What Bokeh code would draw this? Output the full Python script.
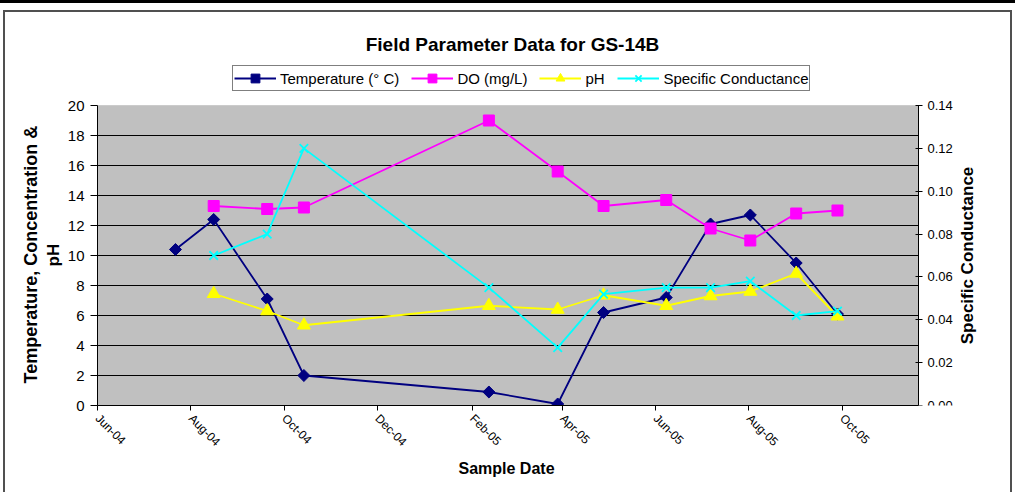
import math
from datetime import datetime
from bokeh.plotting import figure
from bokeh.models import (Range1d, LinearAxis, FixedTicker, DatetimeTickFormatter, Title,
                          Legend, LegendItem, NumeralTickFormatter, Label, BoxAnnotation)
from bokeh.embed import file_html
from bokeh.resources import INLINE

# ---------------- data ----------------
temp_dates = ["2004-07-22", "2004-08-16", "2004-09-20", "2004-10-14", "2005-02-12", "2005-03-29",
              "2005-04-28", "2005-06-08", "2005-07-07", "2005-08-02", "2005-09-01", "2005-09-28"]
temp_vals = [10.4, 12.4, 7.1, 2.0, 0.9, 0.1, 6.2, 7.2, 12.1, 12.7, 9.5, 6.1]

sample_dates = ["2004-08-16", "2004-09-20", "2004-10-14", "2005-02-12", "2005-03-29",
                "2005-04-28", "2005-06-08", "2005-07-07", "2005-08-02", "2005-09-01", "2005-09-28"]
do_vals = [13.3, 13.1, 13.2, 19.0, 15.6, 13.3, 13.7, 11.8, 11.0, 12.8, 13.0]
ph_vals = [7.45, 6.3, 5.35, 6.65, 6.4, 7.35, 6.65, 7.3, 7.6, 8.8, 5.95]
sc_vals = [0.070, 0.080, 0.120, 0.055, 0.027, 0.052, 0.055, 0.055, 0.058, 0.042, 0.044]

x_tick_dates = ["2004-06-01", "2004-08-01", "2004-10-01", "2004-12-01", "2005-02-01",
                "2005-04-01", "2005-06-01", "2005-08-01", "2005-10-01"]
x_start, x_end = "2004-06-01", "2005-11-20"
left_ticks = [0, 2, 4, 6, 8, 10, 12, 14, 16, 18, 20]
right_ticks = [0.00, 0.02, 0.04, 0.06, 0.08, 0.10, 0.12, 0.14]
left_max, right_max = 20, 0.14

series_names = ["Temperature (° C)", "DO (mg/L)", "pH", "Specific Conductance"]
title_text = "Field Parameter Data for GS-14B"
x_title = "Sample Date"
y_title_1 = "Temperature, Concentration &"
y_title_2 = "pH"
y2_title = "Specific Conductance"

# ---------------- layout constants (pixels) ----------------
W, H = 1015, 492
PLOT_LEFT, PLOT_RIGHT, PLOT_TOP, PLOT_BOTTOM = 97, 918, 105, 405
BORDER_RIGHT = 37
FRAME_RIGHT = W - BORDER_RIGHT
FONT = "Liberation Sans"

def d(s):
    return datetime.strptime(s, "%Y-%m-%d")

def ms(s):
    return (d(s) - datetime(1970, 1, 1)).total_seconds() * 1000.0

# frame: from canvas top to the x axis, and from the left axis to near the right edge;
# the real plot area is drawn inside it with bounded axes
y_ext = PLOT_BOTTOM / (PLOT_BOTTOM - PLOT_TOP)
px_per_ms = (PLOT_RIGHT - PLOT_LEFT) / (ms(x_end) - ms(x_start))
x_frame_end = ms(x_end) + (FRAME_RIGHT - PLOT_RIGHT) / px_per_ms

p = figure(width=W, height=H, x_axis_type="datetime", title=None,
           x_range=Range1d(ms(x_start), x_frame_end), y_range=Range1d(0, left_max * y_ext),
           output_backend="svg", toolbar_location=None,
           min_border_left=PLOT_LEFT, min_border_right=BORDER_RIGHT,
           min_border_top=0, min_border_bottom=H - PLOT_BOTTOM,
           background_fill_color=None, border_fill_color=None)
p.outline_line_color = None
p.styles = {
    "background-color": "white",
    "background-image": ("linear-gradient(#000,#000), linear-gradient(#505050,#505050), "
                         "linear-gradient(#505050,#505050), linear-gradient(#505050,#505050)"),
    "background-position": "0px 0px, 3px 10px, 3px 10px, 1010px 10px",
    "background-size": "100% 3px, 1009px 2px, 2px 482px, 2px 482px",
    "background-repeat": "no-repeat",
}

# grey plot area
p.add_layout(BoxAnnotation(left=ms(x_start), right=ms(x_end), bottom=0, top=left_max,
                           fill_color="#C0C0C0", fill_alpha=1.0,
                           line_color="#A0A0A0", line_width=1, level="image"))

# horizontal gridlines over the plot area only
grid_y = left_ticks[1:-1]
p.segment(x0=[ms(x_start)] * len(grid_y), x1=[ms(x_end)] * len(grid_y), y0=grid_y, y1=grid_y,
          line_color="black", line_width=1)
p.xgrid.grid_line_color = None
p.ygrid.grid_line_color = None

p.extra_y_ranges = {"sc": Range1d(0, right_max * y_ext)}
rax = LinearAxis(y_range_name="sc", ticker=FixedTicker(ticks=right_ticks),
                 formatter=NumeralTickFormatter(format="0.00"), bounds=(0, right_max),
                 fixed_location=ms(x_end))
p.add_layout(rax, "right")

lax = p.yaxis[0]
lax.ticker = FixedTicker(ticks=left_ticks)
lax.bounds = (0, left_max)

xax = p.xaxis[0]
xax.ticker = FixedTicker(ticks=[ms(t) for t in x_tick_dates])
xax.bounds = (ms(x_start), ms(x_end))
fmt = "%b-%y"
xax.formatter = DatetimeTickFormatter(days=fmt, months=fmt, years=fmt, hours=fmt,
                                      minutes=fmt, seconds=fmt, milliseconds=fmt,
                                      minsec=fmt, hourmin=fmt)
xax.major_label_orientation = -math.pi / 4

for ax in [xax, lax, rax]:
    ax.axis_line_color = "black"
    ax.axis_line_width = 1
    ax.major_tick_line_color = "black"
    ax.minor_tick_line_color = None
    ax.major_label_text_font = FONT
    ax.major_label_text_color = "black"

xax.major_tick_in = 0
xax.major_tick_out = 5
xax.major_label_text_font_size = "12px"
xax.major_label_standoff = 6

lax.major_tick_in = 0
lax.major_tick_out = 7
lax.major_label_standoff = 6
lax.major_label_text_font_size = "15px"

rax.major_tick_in = 3
rax.major_tick_out = 4
rax.major_label_standoff = 5
rax.major_label_text_font_size = "13px"

# ---------------- series ----------------
tx = [ms(s) for s in temp_dates]
sx = [ms(s) for s in sample_dates]
LW = 1.8

l1 = p.line(tx, temp_vals, line_color="#000080", line_width=LW)
m1 = p.scatter(tx, temp_vals, marker="square", angle=math.pi / 4, size=8.5,
               fill_color="#000080", line_color="#000080")

l2 = p.line(sx, do_vals, line_color="#FF00FF", line_width=LW)
m2 = p.scatter(sx, do_vals, marker="square", size=11, fill_color="#FF00FF", line_color="#FF00FF")

l3 = p.line(sx, ph_vals, line_color="#FFFF00", line_width=LW)
m3 = p.scatter(sx, ph_vals, marker="triangle", size=13, fill_color="#FFFF00", line_color="#FFFF00")

l4 = p.line(sx, sc_vals, line_color="#00FFFF", line_width=LW, y_range_name="sc")
m4 = p.scatter(sx, sc_vals, marker="x", size=12, line_color="#00FFFF", line_width=1.8,
               y_range_name="sc")

legend = Legend(items=[LegendItem(label=series_names[0], renderers=[l1, m1]),
                       LegendItem(label=series_names[1], renderers=[l2, m2]),
                       LegendItem(label=series_names[2], renderers=[l3, m3]),
                       LegendItem(label=series_names[3], renderers=[l4, m4])],
                orientation="horizontal", location=(232 - PLOT_LEFT, PLOT_BOTTOM - 91),
                glyph_width=42, glyph_height=22, label_height=22, label_standoff=4,
                spacing=12, padding=1, margin=0,
                label_text_font=FONT, label_text_font_size="15px", label_text_color="black",
                border_line_color="black", border_line_width=1,
                background_fill_color="white", background_fill_alpha=1)
p.add_layout(legend)

# ---------------- texts ----------------
def frame_label(text, px, py, size, angle=0.0):
    p.add_layout(Label(text=text, x=px - PLOT_LEFT, y=PLOT_BOTTOM - py,
                       x_units="screen", y_units="screen", angle=angle,
                       text_align="center", text_baseline="middle", text_font=FONT,
                       text_font_size=size, text_font_style="bold", text_color="black"))

frame_label(title_text, 512, 44, "19px")
frame_label(y2_title, 967, 255, "17px", angle=math.pi / 2)

def side_title(text, side, offset, standoff, size):
    p.add_layout(Title(text=text, align="left", offset=offset, standoff=standoff,
                       text_font=FONT, text_font_size=size, text_font_style="bold",
                       text_color="black"), side)

side_title(y_title_2, "left", 139, 3, "17px")
side_title(y_title_1, "left", 22, 0, "18px")
side_title(x_title, "below", 361, 3, "16px")

open("out.html", "w").write(file_html(p, INLINE))
